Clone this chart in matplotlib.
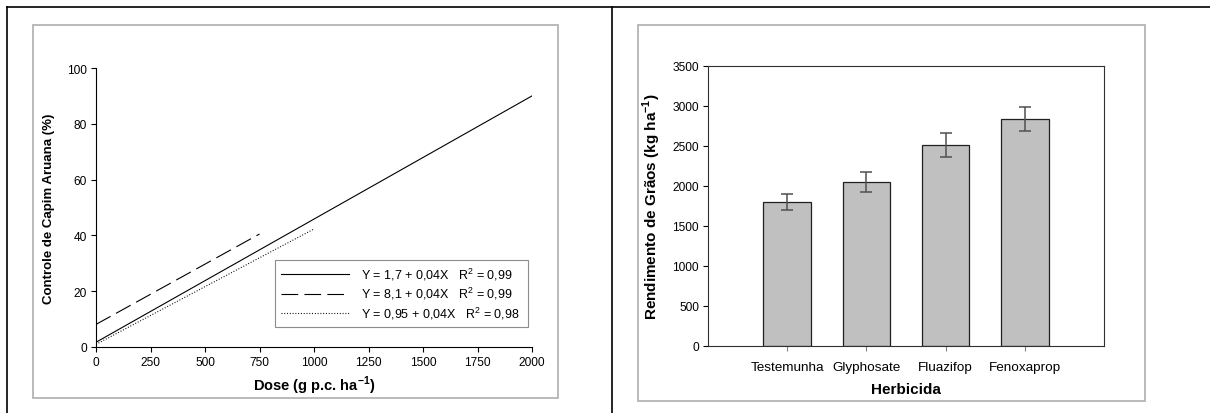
import matplotlib
matplotlib.use('Agg')
import matplotlib.pyplot as plt
from matplotlib.lines import Line2D
from matplotlib.patches import Rectangle

plt.rcParams['font.family'] = ['Liberation Sans', 'DejaVu Sans']
plt.rcParams['mathtext.fontset'] = 'custom'
plt.rcParams['mathtext.rm'] = 'Liberation Sans'
plt.rcParams['mathtext.bf'] = 'Liberation Sans:bold'
plt.rcParams['lines.scale_dashes'] = False

# left panel: regression lines (endpoints)
dose_solid = [0, 2000]
ctrl_solid = [1.7, 90]
dose_dash = [0, 750]
ctrl_dash = [8.1, 40.5]
dose_dot = [0, 1000]
ctrl_dot = [0.95, 42.3]
labels = ['Y = 1,7 + 0,04X   R$^2$ = 0,99',
          'Y = 8,1 + 0,04X   R$^2$ = 0,99',
          'Y = 0,95 + 0,04X   R$^2$ = 0,98']

# right panel: grain yield
herbicidas = ['Testemunha', 'Glyphosate', 'Fluazifop', 'Fenoxaprop']
rendimento = [1800, 2050, 2510, 2835]
erro = [100, 128, 148, 148]

W, H = 1210, 414
fig = plt.figure(figsize=(W / 100, H / 100), dpi=100)

def fx(px):
    return px / W

def fy(py):
    return 1 - py / H

# page frame (table borders)
fig.add_artist(Line2D([fx(7), 1], [fy(8), fy(8)], color='black', lw=1.2))
fig.add_artist(Line2D([fx(7), fx(7)], [fy(8), 0], color='black', lw=1.2))
fig.add_artist(Line2D([fx(612), fx(612)], [fy(8), 0], color='black', lw=1.2))
# gray boxes
fig.add_artist(Rectangle((fx(33), fy(399)), fx(558 - 33), (399 - 26) / H,
                         fill=False, edgecolor='#b4b4b4', lw=1.3))
fig.add_artist(Rectangle((fx(638), fy(402)), fx(1145 - 638), (402 - 26) / H,
                         fill=False, edgecolor='#b4b4b4', lw=1.3))

tick_fs = 8.6

# ---- left
ax1 = fig.add_axes([fx(96), fy(348), fx(532 - 96), (348 - 69) / H])
ax1.plot(dose_solid, ctrl_solid, color='black', lw=0.8, label=labels[0])
ax1.plot(dose_dash, ctrl_dash, color='black', lw=0.8, dashes=(12, 4.5), label=labels[1])
ax1.plot(dose_dot, ctrl_dot, color='black', lw=0.8, dashes=(0.7, 1.3), label=labels[2])
ax1.set_xlim(0, 2000)
ax1.set_ylim(0, 100)
ax1.set_xticks(range(0, 2001, 250))
ax1.set_yticks(range(0, 101, 20))
ax1.spines['top'].set_visible(False)
ax1.spines['right'].set_visible(False)
ax1.spines['left'].set_linewidth(0.8)
ax1.spines['bottom'].set_linewidth(0.8)
ax1.tick_params(direction='out', length=3.5, width=0.8, labelsize=tick_fs, pad=3)
ax1.set_xlabel('Dose (g p.c. ha$^{\\mathbf{-1}}$)', fontsize=10.5, fontweight='bold', labelpad=4)
ax1.set_ylabel('Controle de Capim Aruana (%)', fontsize=9.5, fontweight='bold', labelpad=9)
leg = ax1.legend(loc='lower left', bbox_to_anchor=((275 - 96) / 436, (348 - 328) / 279,
                                                  (528 - 275) / 436, (328 - 268) / 279),
                 mode='expand', fontsize=9, frameon=True, fancybox=False,
                 handlelength=5.4, handletextpad=1.0, borderpad=0.5, labelspacing=0.25,
                 borderaxespad=0)
leg.get_frame().set_edgecolor('#707070')
leg.get_frame().set_linewidth(0.8)

# ---- right
ax2 = fig.add_axes([fx(708), fy(347), fx(1104 - 708), (347 - 67) / H])
pos = list(range(1, len(herbicidas) + 1))
ax2.bar(pos, rendimento, width=0.6, color='#c0c0c0', edgecolor='#202020', lw=0.9)
ax2.errorbar(pos, rendimento, yerr=erro, fmt='none', ecolor='#505050',
             elinewidth=1.1, capsize=4.5, capthick=1.1)
ax2.set_xlim(0, 5)
ax2.set_ylim(0, 3500)
ax2.set_yticks(range(0, 3501, 500))
ax2.set_xticks(pos)
ax2.set_xticklabels(herbicidas, fontsize=9.7)
for s in ax2.spines.values():
    s.set_linewidth(0.8)
    s.set_color('#303030')
ax2.tick_params(direction='out', length=3.5, width=0.8, labelsize=tick_fs, pad=3)
ax2.tick_params(axis='x', pad=7, color='#808080', labelsize=9.7)
ax2.set_xlabel('Herbicida', fontsize=11, fontweight='bold', labelpad=7)
ax2.set_ylabel('Rendimento de Grãos (kg ha$^{\\mathbf{-1}}$)', fontsize=11,
               fontweight='bold', labelpad=7)

fig.savefig('out.png', dpi=100)
